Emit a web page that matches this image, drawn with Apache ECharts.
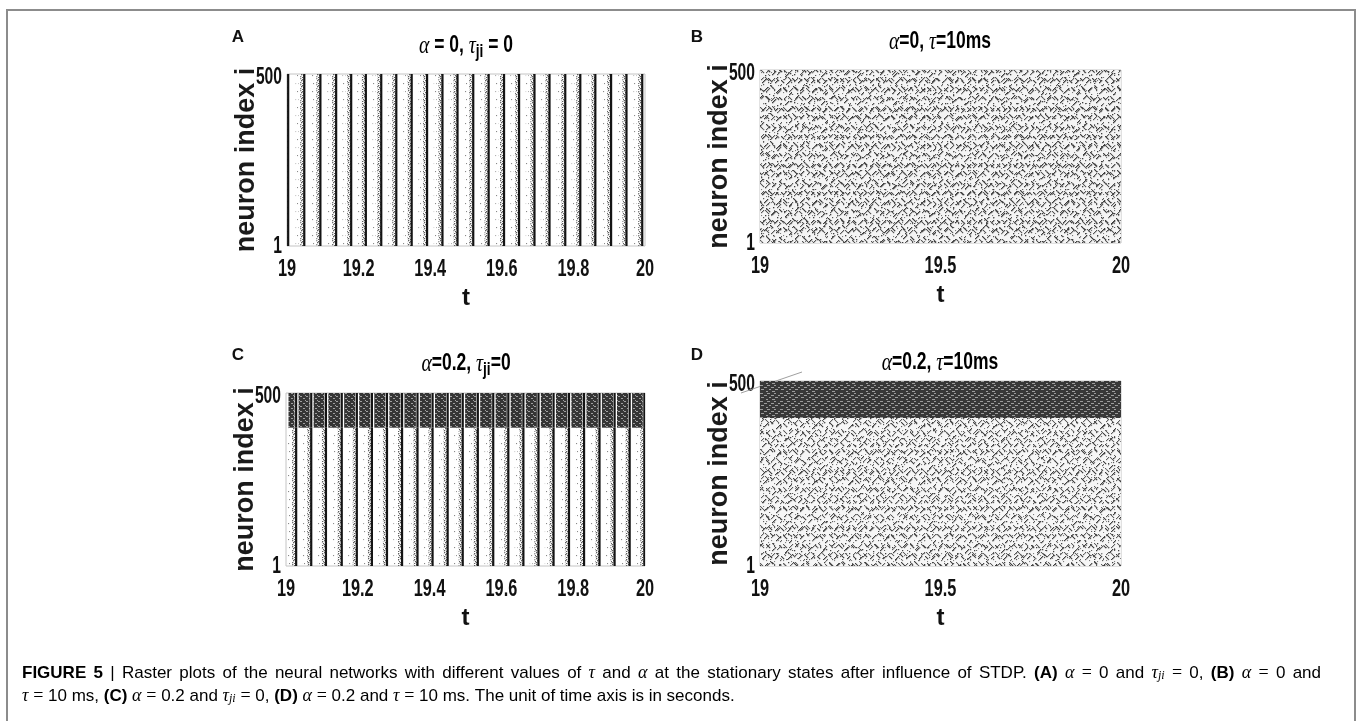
<!DOCTYPE html>
<html>
<head>
<meta charset="utf-8">
<script src="https://cdn.jsdelivr.net/npm/echarts@6/dist/echarts.min.js"></script>
<style>
  html, body { margin: 0; padding: 0; background: #fff; }
  #chart { width: 1357px; height: 721px; }
</style>
</head>
<body>
<div id="chart"></div>
<script>
// ---- data ----
const timeRange = [19, 20];          // seconds
const neuronRange = [1, 500];        // neuron index
const xTicksFine = [19, 19.2, 19.4, 19.6, 19.8, 20];
const xTicksCoarse = [19, 19.5, 20];
const yTicks = [1, 500];
// population burst times (s), alpha = 0, tau_ji = 0
const burstTimesA = [19.003, 19.048, 19.093, 19.137, 19.179, 19.220, 19.263, 19.305,
  19.348, 19.391, 19.434, 19.476, 19.520, 19.563, 19.606, 19.648, 19.691, 19.733,
  19.777, 19.819, 19.861, 19.905, 19.948, 19.992];
// population burst times (s), alpha = 0.2, tau_ji = 0
const burstTimesC = [19.028, 19.070, 19.111, 19.155, 19.197, 19.239, 19.281, 19.323,
  19.366, 19.408, 19.450, 19.492, 19.534, 19.577, 19.619, 19.661, 19.703, 19.745,
  19.788, 19.830, 19.873, 19.915, 19.957, 19.998];
// neurons firing at high rate (alpha = 0.2)
const fastBandC = [400, 500];
const fastBandD = [400, 500];

// ---- textures for dense spike rasters ----
function strokesToDots(strokes) {
  const pts = [];
  strokes.forEach(s => {
    const n = s.length > 2 ? s[4] : 1;
    for (let k = 0; k < n; k++) pts.push([s[0] + (s[2] || 0) * k, s[1] + (s[3] || 0) * k]);
  });
  return pts;
}
function makeTile(w, h, bg, color, size, dots) {
  const c = document.createElement('canvas');
  c.width = w; c.height = h;
  const g = c.getContext('2d');
  if (bg) { g.fillStyle = bg; g.fillRect(0, 0, w, h); }
  g.fillStyle = color;
  dots.forEach(d => g.fillRect(d[0], d[1], d[2] || size, d[3] || size));
  return { image: c, repeat: 'repeat' };
}
// irregular speckle of short diagonal spike chains, layers with co-prime tile sizes
const speckleStrokes1 = [
  [1, 2, 1, 1, 4], [8, 6, 1, -1, 4], [14, 1, 1, 1, 3], [20, 8, 1, -1, 5], [27, 3, 1, 1, 4],
  [33, 10, 1, -1, 3], [3, 14, 1, -1, 4], [10, 12, 1, 1, 4], [16, 18, 1, -1, 4], [23, 13, 1, 1, 3],
  [29, 20, 1, -1, 4], [0, 22, 1, 1, 3], [6, 26, 1, -1, 4], [12, 22, 1, 1, 4], [19, 26, 1, -1, 3],
  [25, 24, 1, 1, 3], [31, 27, 1, -1, 4],
  [5, 9], [17, 11], [24, 5], [34, 17], [9, 19], [28, 15], [14, 27], [2, 18], [21, 21], [32, 2]
];
const speckleStrokes2 = [
  [2, 3, 1, -1, 3], [6, 1, 1, 1, 4], [12, 5, 1, -1, 4], [17, 2, 1, 1, 3], [21, 9, 1, -1, 3],
  [1, 12, 1, 1, 4], [7, 15, 1, -1, 4], [13, 11, 1, 1, 3], [18, 17, 1, -1, 4],
  [4, 8], [10, 18], [15, 14], [20, 13], [9, 6]
];
const speckleB = [
  makeTile(36, 28, null, '#3c3c3c', 1.3, strokesToDots(speckleStrokes1)),
  makeTile(23, 19, null, '#555555', 1.2, strokesToDots(speckleStrokes2)),
  makeTile(17, 13, null, '#7a7a7a', 1.1, [[1, 1], [9, 2], [13, 7], [3, 9], [15, 12], [6, 7]])
];
const speckleD = [
  makeTile(36, 28, null, '#404040', 1.25, strokesToDots(speckleStrokes1)),
  makeTile(23, 19, null, '#5c5c5c', 1.15, strokesToDots(speckleStrokes2)),
  makeTile(17, 13, null, '#808080', 1.1, [[1, 1], [9, 2], [13, 7], [3, 9], [15, 12], [6, 7]])
];
// stipple of early spikes just before each population burst
const stipple = makeTile(4, 6, null, '#606060', 1.3,
  [[0, 0], [2, 1], [1, 2], [3, 3], [0, 4], [2, 5]]);
const sparse = makeTile(3, 16, null, '#8a8a8a', 1.1, [[1, 3], [0, 11]]);
// fast-firing band textures
const bandTileC = makeTile(6, 5, '#353535', '#a0a0a0', 1,
  [[0, 1, 2, 1], [3, 3, 2, 1], [5, 0, 1, 1]]);
const bandTileD = makeTile(20, 8, '#383838', '#9c9c9c', 1, [
  [0, 1, 3, 1], [7, 1, 3, 1], [14, 1, 2, 1], [4, 3, 3, 1], [11, 3, 3, 1], [18, 3, 2, 1],
  [1, 5, 3, 1], [9, 5, 2, 1], [15, 5, 3, 1], [6, 7, 2, 1], [12, 7, 3, 1]
]);

// ---- fonts ----
const sans = "'Liberation Sans', Arial, sans-serif";
const serif = "'Liberation Serif', 'DejaVu Serif', serif";
const NARROW = 0.68;   // horizontal squeeze giving the condensed figure lettering

// ---- layout ----
const grids = [
  { left: 287, top: 74, width: 358, height: 172 },   // A
  { left: 760, top: 70, width: 361, height: 173 },   // B
  { left: 286, top: 393, width: 359, height: 173 },  // C
  { left: 760, top: 381, width: 361, height: 185 }   // D
];
const xTickSets = [xTicksFine, xTicksCoarse, xTicksFine, xTicksCoarse];

const xAxes = grids.map((g, i) => ({
  type: 'value', gridIndex: i, min: timeRange[0], max: timeRange[1],
  axisLine: { show: false }, axisTick: { show: false }, splitLine: { show: false },
  axisLabel: { show: false },
  name: 't', nameLocation: 'middle', nameGap: 40, nameMoveOverlap: false,
  nameTextStyle: { fontFamily: sans, fontWeight: 'bold', fontSize: 24, color: '#111' }
}));
const yAxes = grids.map((g, i) => ({
  type: 'value', gridIndex: i, min: neuronRange[0], max: neuronRange[1],
  axisLine: { show: false }, axisTick: { show: false }, splitLine: { show: false },
  axisLabel: { show: false },
  name: 'neuron index i', nameLocation: 'middle', nameGap: 27, nameRotate: 90, nameMoveOverlap: false,
  nameTextStyle: { fontFamily: sans, fontWeight: 'bold', fontSize: 27, color: '#1a1a1a' }
}));

// one population burst: black spike column with a stipple of early spikes
function burstItem(lo, hi) {
  return function (params, api) {
    const t = api.value(0);
    const yTop = api.coord([t, hi])[1];
    const yBot = api.coord([t, lo])[1];
    const x = api.coord([t, lo])[0];
    const xs = api.coord([t - 0.011, lo])[0];
    const xf = api.coord([t - 0.024, lo])[0];
    const xf2 = api.coord([t - 0.016, lo])[0];
    return {
      type: 'group', children: [
        { type: 'rect', shape: { x: xf, y: yTop, width: xf2 - xf, height: yBot - yTop }, style: { fill: sparse } },
        { type: 'rect', shape: { x: xs, y: yTop, width: x - xs, height: yBot - yTop }, style: { fill: stipple } },
        { type: 'rect', shape: { x: x - 1, y: yTop, width: 2.2, height: yBot - yTop }, style: { fill: '#141414' } }
      ]
    };
  };
}
// raster region [t0, t1] x [n0, n1] filled with one or more texture layers
function regionItem(fills, bg) {
  return function (params, api) {
    const p0 = api.coord([api.value(0), api.value(3)]);
    const p1 = api.coord([api.value(1), api.value(2)]);
    const shape = { x: p0[0], y: p0[1], width: p1[0] - p0[0], height: p1[1] - p0[1] };
    const children = [];
    if (bg) children.push({ type: 'rect', shape: shape, style: { fill: bg } });
    fills.forEach(f => children.push({ type: 'rect', shape: shape, style: { fill: f } }));
    return { type: 'group', children: children };
  };
}
// fast band of C: a dense block between consecutive bursts
const blocksC = [[timeRange[0], burstTimesC[0]]]
  .concat(burstTimesC.slice(0, -1).map((t, k) => [t, burstTimesC[k + 1]]))
  .concat([[burstTimesC[burstTimesC.length - 1], timeRange[1]]]);
function bandBlockItem(params, api) {
  const a = api.coord([api.value(0), api.value(3)]);
  const b = api.coord([api.value(1), api.value(2)]);
  const x0 = a[0] + 2.5, x1 = b[0] - 1.5;
  return {
    type: 'group', children: [
      { type: 'rect', shape: { x: x0, y: a[1], width: Math.max(0, x1 - x0), height: b[1] - a[1] }, style: { fill: bandTileC } },
      { type: 'rect', shape: { x: b[0] - 1, y: a[1], width: 2.2, height: b[1] - a[1] }, style: { fill: '#141414' } }
    ]
  };
}

const series = [
  { type: 'custom', xAxisIndex: 0, yAxisIndex: 0, clip: true, silent: true,
    renderItem: burstItem(neuronRange[0], neuronRange[1]),
    data: burstTimesA.map(t => [t]) },
  { type: 'custom', xAxisIndex: 1, yAxisIndex: 1, clip: true, silent: true,
    renderItem: regionItem(speckleB, '#f4f4f4'),
    data: [[timeRange[0], timeRange[1], neuronRange[0], neuronRange[1]]] },
  { type: 'custom', xAxisIndex: 2, yAxisIndex: 2, clip: true, silent: true,
    renderItem: burstItem(neuronRange[0], fastBandC[0]),
    data: burstTimesC.map(t => [t]) },
  { type: 'custom', xAxisIndex: 2, yAxisIndex: 2, clip: true, silent: true,
    renderItem: bandBlockItem,
    data: blocksC.map(b => [b[0], b[1], fastBandC[0], fastBandC[1]]) },
  { type: 'custom', xAxisIndex: 3, yAxisIndex: 3, clip: true, silent: true,
    renderItem: regionItem(speckleD, '#f6f6f6'),
    data: [[timeRange[0], timeRange[1], neuronRange[0], fastBandD[0]]] },
  { type: 'custom', xAxisIndex: 3, yAxisIndex: 3, clip: true, silent: true,
    renderItem: regionItem([bandTileD]),
    data: [[timeRange[0], timeRange[1], fastBandD[0], fastBandD[1]]] }
];

const chart = echarts.init(document.getElementById('chart'), null, { renderer: 'canvas' });
chart.setOption({
  animation: false,
  backgroundColor: '#fff',
  grid: grids.map(g => Object.assign({ show: true, borderColor: '#c4c4c4', borderWidth: 1,
    backgroundColor: 'transparent' }, g)),
  xAxis: xAxes,
  yAxis: yAxes,
  series: series
});

// ---- tick labels (condensed lettering placed through each grid's scales) ----
const graphics = [];
grids.forEach((g, i) => {
  xTickSets[i].forEach(v => {
    const p = chart.convertToPixel({ gridIndex: i }, [v, neuronRange[0]]);
    graphics.push({ type: 'text', x: p[0], y: p[1] + 23, scaleX: NARROW, silent: true,
      style: { text: String(v), fontFamily: sans, fontWeight: 'bold', fontSize: 24, fill: '#111',
        align: 'center', verticalAlign: 'middle' } });
  });
  yTicks.forEach(v => {
    const p = chart.convertToPixel({ gridIndex: i }, [timeRange[0], v]);
    graphics.push({ type: 'text', x: p[0] - 5, y: p[1] + (v === neuronRange[0] ? 1 : 4), scaleX: NARROW, silent: true,
      style: { text: String(v), fontFamily: sans, fontWeight: 'bold', fontSize: 23, fill: '#111',
        align: 'right', verticalAlign: 'middle' } });
  });
});

// ---- titles and panel letters ----
const titleRich = {
  g: { fontFamily: serif, fontStyle: 'italic', fontSize: 26, color: '#111', lineHeight: 30 },
  b: { fontFamily: sans, fontWeight: 'bold', fontSize: 23, color: '#111', lineHeight: 30 },
  s: { fontFamily: sans, fontWeight: 'bold', fontSize: 18, color: '#111', lineHeight: 17,
       verticalAlign: 'bottom' }
};
function title(x, y, text) {
  return { type: 'text', x: x, y: y, scaleX: 0.76, silent: true,
    style: { text: text, rich: titleRich, align: 'center', verticalAlign: 'middle' } };
}
function letter(x, y, t) {
  return { type: 'text', x: x, y: y, silent: true,
    style: { text: t, fontFamily: sans, fontWeight: 'bold', fontSize: 17, fill: '#111',
      align: 'center', verticalAlign: 'middle' } };
}
graphics.push(
  { type: 'rect', silent: true, shape: { x: 7, y: 10, width: 1348, height: 730 },
    style: { fill: null, stroke: '#8c8c8c', lineWidth: 2 } },
  letter(238, 37, 'A'), letter(697, 37, 'B'), letter(238, 355, 'C'), letter(697, 355, 'D'),
  title(466, 46, '{g|α}{b| = 0, }{g|τ}{s|ji}{b| = 0}'),
  title(940, 42, '{g|α}{b|=0, }{g|τ}{b|=10ms}'),
  title(466, 364, '{g|α}{b|=0.2, }{g|τ}{s|ji}{b|=0}'),
  title(940, 363, '{g|α}{b|=0.2, }{g|τ}{b|=10ms}'),
  { type: 'line', silent: true, shape: { x1: 741, y1: 393, x2: 802, y2: 372 },
    style: { stroke: '#a0a0a0', lineWidth: 1 } }
);

// ---- caption: first line justified, second line ragged ----
const CAP = 17;
const capRich = {
  n: { fontFamily: sans, fontSize: CAP, color: '#333' },
  B: { fontFamily: sans, fontWeight: 'bold', fontSize: CAP, color: '#333' },
  m: { fontFamily: serif, fontStyle: 'italic', fontSize: CAP + 1, color: '#333' },
  r: { fontFamily: serif, fontSize: CAP + 1, color: '#333' },
  sub: { fontFamily: serif, fontStyle: 'italic', fontSize: CAP - 5, color: '#333',
         verticalAlign: 'bottom', lineHeight: 10 }
};
const capFonts = {};
Object.keys(capRich).forEach(k => {
  const r = capRich[k];
  capFonts[k] = (r.fontStyle || 'normal') + ' ' + (r.fontWeight || 'normal') + ' ' + r.fontSize + 'px ' + r.fontFamily;
});
const measureCtx = document.createElement('canvas').getContext('2d');
function wordWidth(w) {
  let sum = 0;
  w.replace(/\{(\w+)\|([^}]*)\}/g, (m, k, txt) => {
    measureCtx.font = capFonts[k];
    sum += measureCtx.measureText(txt).width;
    return m;
  });
  return sum;
}
const captionLine1 = ['{B|FIGURE}', '{B|5}', '{n||}', '{n|Raster}', '{n|plots}', '{n|of}', '{n|the}', '{n|neural}',
  '{n|networks}', '{n|with}', '{n|different}', '{n|values}', '{n|of}', '{m|τ}', '{n|and}', '{m|α}', '{n|at}', '{n|the}',
  '{n|stationary}', '{n|states}', '{n|after}', '{n|influence}', '{n|of}', '{n|STDP.}', '{B|(A)}', '{m|α}', '{r|=}',
  '{n|0}', '{n|and}', '{m|τ}{sub|ji}', '{r|=}', '{n|0,}', '{B|(B)}', '{m|α}', '{r|=}', '{n|0}', '{n|and}'];
const captionLine2 = ['{m|τ}', '{r|=}', '{n|10}', '{n|ms,}', '{B|(C)}', '{m|α}', '{r|=}', '{n|0.2}', '{n|and}',
  '{m|τ}{sub|ji}', '{r|=}', '{n|0,}', '{B|(D)}', '{m|α}', '{r|=}', '{n|0.2}', '{n|and}', '{m|τ}', '{r|=}',
  '{n|10}', '{n|ms.}', '{n|The}', '{n|unit}', '{n|of}', '{n|time}', '{n|axis}', '{n|is}', '{n|in}', '{n|seconds.}'];
function layoutLine(words, x0, y, justifyTo) {
  const widths = words.map(wordWidth);
  measureCtx.font = capFonts.n;
  let gap = measureCtx.measureText(' ').width;
  if (justifyTo) {
    const total = widths.reduce((a, b) => a + b, 0);
    gap = (justifyTo - x0 - total) / (words.length - 1);
  }
  let x = x0;
  words.forEach((w, k) => {
    graphics.push({ type: 'text', x: x, y: y, silent: true,
      style: { text: w, rich: capRich, verticalAlign: 'middle' } });
    x += widths[k] + gap;
  });
}
layoutLine(captionLine1, 22, 673, 1321);
layoutLine(captionLine2, 22, 696, null);

chart.setOption({ graphic: graphics });
</script>
</body>
</html>
